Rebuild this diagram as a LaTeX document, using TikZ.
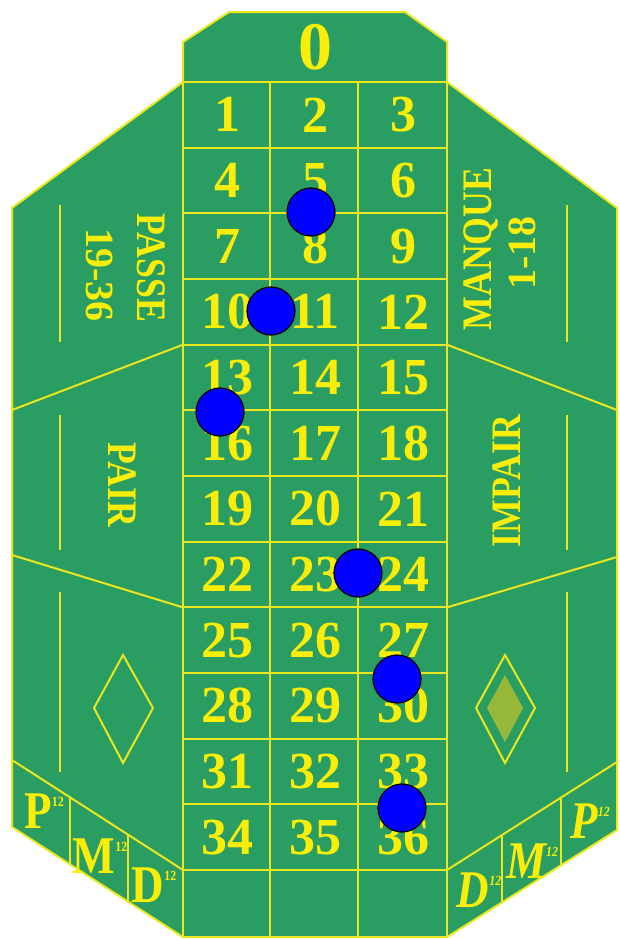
\documentclass[tikz,border=0pt]{standalone}
\usepackage{fontspec}
\setmainfont{Liberation Serif}
\newfontfamily\narrowfont[FakeStretch=0.85]{Liberation Serif}
\usetikzlibrary{positioning}

\definecolor{felt}{RGB}{42,157,98}
\definecolor{lineyellow}{RGB}{236,230,30}
\definecolor{textyellow}{RGB}{250,238,8}
\definecolor{diamondfill}{RGB}{152,184,60}

\newcommand{\dozen}{\raisebox{0.42em}{\fontsize{14}{14}\selectfont 12}}

\tikzset{
  tableline/.style={lineyellow, line width=2pt},
  panelline/.style={lineyellow, line width=2.6pt},
  num/.style={textyellow, inner sep=0pt, font=\fontsize{52}{56}\selectfont\bfseries},
  word/.style={textyellow, inner sep=0pt, text depth=0pt, font=\narrowfont\fontsize{42}{44}\selectfont\bfseries},
  rangeword/.style={textyellow, inner sep=0pt, font=\fontsize{40}{44}\selectfont\bfseries},
  dozenword/.style={textyellow, inner sep=0pt, text depth=0pt, font=\narrowfont\fontsize{53}{55}\selectfont\bfseries},
  rdozenword/.style={dozenword, font=\narrowfont\fontsize{53}{55}\selectfont\bfseries\itshape},
  chip/.style={circle, fill=blue, draw=black, line width=1.2pt, minimum size=48pt, inner sep=0pt}
}

\begin{document}
\begin{tikzpicture}[x=1pt, y=-1pt]
\useasboundingbox (0,0) rectangle (619,940);
% felt and border
\draw[tableline, fill=felt] (229,12) -- (405,12) -- (447,42) -- (447,82) -- (617,208) -- (617,830)
  -- (447,937) -- (183,937) -- (12,827) -- (12,208) -- (183,82) -- (183,42) -- cycle;
% grid
\foreach \r in {0,...,12}
  \draw[tableline] (183,{82+65.67*\r}) -- (447,{82+65.67*\r});
\foreach \x in {183,270,358,447}
  \draw[tableline] (\x,82) -- (\x,937);
% side panels
\draw[tableline] (183,344.7) -- (12,410);
\draw[tableline] (12,555) -- (183,607.4);
\draw[tableline] (447,344.7) -- (617,410);
\draw[tableline] (617,557) -- (447,607.4);
\draw[tableline] (12,760) -- (183,870);
\draw[tableline] (70,797.3) -- (70,864.3);
\draw[tableline] (128,834.6) -- (128,901.6);
\draw[tableline] (447,870) -- (617,762);
\draw[tableline] (502,835) -- (502,902.4);
\draw[tableline] (561,797.6) -- (561,865.2);
\foreach \y/\z in {205/342,415/550,592/772} {
  \draw[panelline] (60,\y) -- (60,\z);
  \draw[panelline] (567,\y) -- (567,\z);
}
% diamonds
\draw[tableline] (123,655) -- (153,708) -- (123,763) -- (94,708) -- cycle;
\draw[tableline] (505,655) -- (535,708) -- (505,763) -- (476,708) -- cycle;
\fill[diamondfill] (505,675) -- (523,708) -- (505,742) -- (487,708) -- cycle;

% numbers
\node[num, font=\fontsize{68}{72}\selectfont\bfseries] (zero) at (315,47) {0};
\foreach \r in {0,...,11} {
  \foreach \c in {1,2,3} {
    \pgfmathtruncatemacro{\cell}{3*\r+\c}
    \node[num] (n\cell) at ({183+88*\c-44},{82+65.67*\r+32.8}) {\cell};
  }
}

% outside bets
\node[word, rotate=-90] (passe) at (151,268) {PASSE};
\node[rangeword, rotate=-90] (high) at (100,275) {19-36};
\node[word, rotate=-90] (pair) at (122,485) {PAIR};
\node[word, rotate=90] (manque) at (478,249) {MANQUE};
\node[rangeword, rotate=90] (low) at (522,253) {1-18};
\node[word, rotate=90] (impair) at (507,481) {IMPAIR};

% dozens
\node[dozenword] (lp) at (44,811) {P\dozen};
\node[dozenword] (lm) at (100,856) {M\dozen};
\node[dozenword] (ld) at (154,885) {D\dozen};
\node[rdozenword] (rd) at (479,890) {D\dozen};
\node[rdozenword] (rm) at (532,861) {M\dozen};
\node[rdozenword] (rp) at (590,821) {P\dozen};

% chips
\node[chip] (chip1) at (311,212) {};
\node[chip] (chip2) at (271,311) {};
\node[chip] (chip3) at (220,412) {};
\node[chip] (chip4) at (358,573) {};
\node[chip] (chip5) at (397,679) {};
\node[chip] (chip6) at (402,808) {};
\end{tikzpicture}
\end{document}
